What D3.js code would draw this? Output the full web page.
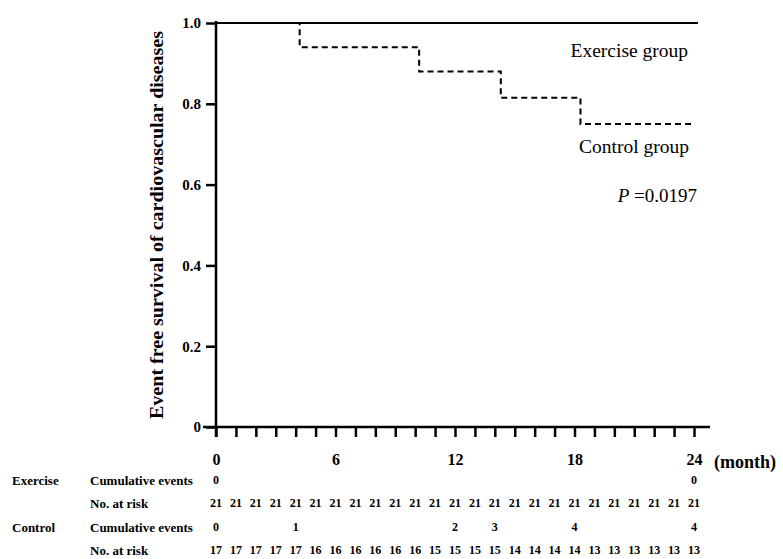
<!DOCTYPE html>
<html>
<head>
<meta charset="utf-8">
<script src="https://cdn.jsdelivr.net/npm/d3@7"></script>
<style>
  body { margin: 0; background: #fff; }
  svg text { font-family: "Liberation Serif", "Times New Roman", serif; fill: #000; }
</style>
</head>
<body>
<script>
// survival curves (month, proportion event free)
const exerciseTimes = [0, 24.2];
const exerciseSurv = [1, 1];
const controlTimes = [0, 4.2, 10.2, 14.3, 18.3, 23.9];
const controlSurv = [1, 0.94, 0.88, 0.815, 0.75, 0.75];

const xTickValues = [0, 1, 2, 3, 4, 5, 6, 7, 8, 9, 10, 11, 12, 13, 14, 15, 16, 17, 18, 19, 20, 21, 22, 23, 24];
const xTickLabels = [0, 6, 12, 18, 24];
const yTickValues = [0, 0.2, 0.4, 0.6, 0.8, 1.0];

// table under the plot
const riskMonths = [0, 1, 2, 3, 4, 5, 6, 7, 8, 9, 10, 11, 12, 13, 14, 15, 16, 17, 18, 19, 20, 21, 22, 23, 24];
const exerciseAtRisk = [21, 21, 21, 21, 21, 21, 21, 21, 21, 21, 21, 21, 21, 21, 21, 21, 21, 21, 21, 21, 21, 21, 21, 21, 21];
const controlAtRisk = [17, 17, 17, 17, 17, 16, 16, 16, 16, 16, 16, 15, 15, 15, 15, 14, 14, 14, 14, 13, 13, 13, 13, 13, 13];
const exerciseEventMonths = [0, 24];
const exerciseEvents = [0, 0];
const controlEventMonths = [0, 4, 12, 14, 18, 24];
const controlEvents = [0, 1, 2, 3, 4, 4];

function init() {
    var w = 783;
    var h = 559;

    var x = d3.scaleLinear().domain([0, 24]).range([216, 694]);
    var y = d3.scaleLinear().domain([0, 1]).range([427, 23]);

    var svg = d3.select("body")
        .append("svg")
        .attr("width", w)
        .attr("height", h);

    // y axis
    var yAxis = svg.append("g")
        .attr("transform", "translate(" + x(0) + ",0)")
        .call(d3.axisLeft(y)
            .tickValues(yTickValues)
            .tickSize(10)
            .tickPadding(5)
            .tickFormat(function(d) { return d === 0 ? "0" : d3.format(".1f")(d); }));
    yAxis.select(".domain").remove();
    yAxis.selectAll("line").attr("stroke", "#000").attr("stroke-width", 2.5);
    yAxis.selectAll("text")
        .style("font-size", "15px")
        .style("font-weight", "bold");

    // x axis
    var xAxis = svg.append("g")
        .attr("transform", "translate(0," + y(0) + ")")
        .call(d3.axisBottom(x)
            .tickValues(xTickValues)
            .tickSize(10)
            .tickPadding(17)
            .tickFormat(function(d) { return xTickLabels.indexOf(d) >= 0 ? d : ""; }));
    xAxis.select(".domain").remove();
    xAxis.selectAll("line").attr("stroke", "#000").attr("stroke-width", 2.5);
    xAxis.selectAll("text")
        .style("font-size", "16px")
        .style("font-weight", "bold");

    // axis lines
    svg.append("line")
        .attr("x1", x(0)).attr("x2", x(0))
        .attr("y1", y(0) + 10).attr("y2", y(1) - 2)
        .attr("stroke", "#000").attr("stroke-width", 2.5);
    svg.append("line")
        .attr("x1", x(0) - 13).attr("x2", x(24) + 16)
        .attr("y1", y(0)).attr("y2", y(0))
        .attr("stroke", "#000").attr("stroke-width", 2.5);

    svg.append("text")
        .attr("x", 714)
        .attr("y", y(0) + 41)
        .style("font-size", "18px")
        .style("font-weight", "bold")
        .text("(month)");

    svg.append("text")
        .attr("transform", "translate(163," + y(0.5) + ") rotate(-90)")
        .attr("text-anchor", "middle")
        .attr("textLength", 388)
        .attr("lengthAdjust", "spacingAndGlyphs")
        .style("font-size", "18px")
        .style("font-weight", "bold")
        .text("Event free survival of cardiovascular diseases");

    // curves
    var line = d3.line()
        .x(function(d) { return x(d[0]); })
        .y(function(d) { return y(d[1]); })
        .curve(d3.curveStepAfter);

    svg.append("path")
        .attr("d", line(d3.zip(exerciseTimes, exerciseSurv)))
        .attr("fill", "none")
        .attr("stroke", "#000")
        .attr("stroke-width", 2);

    svg.append("path")
        .attr("d", line(d3.zip(controlTimes, controlSurv)))
        .attr("fill", "none")
        .attr("stroke", "#000")
        .attr("stroke-width", 2)
        .attr("stroke-dasharray", "6,4");

    svg.append("text")
        .attr("x", 688).attr("y", 57)
        .attr("text-anchor", "end")
        .style("font-size", "19.5px")
        .text("Exercise group");

    svg.append("text")
        .attr("x", 689).attr("y", 153)
        .attr("text-anchor", "end")
        .style("font-size", "19.5px")
        .text("Control group");

    var p = svg.append("text")
        .attr("x", 697).attr("y", 202)
        .attr("text-anchor", "end")
        .style("font-size", "19px");
    p.append("tspan").style("font-style", "italic").text("P");
    p.append("tspan").text(" =0.0197");

    // table
    var rows = [480, 503, 527, 550];

    function label(tx, ty, s) {
        svg.append("text")
            .attr("x", tx).attr("y", ty)
            .attr("dy", "0.35em")
            .style("font-size", "13px")
            .style("font-weight", "bold")
            .text(s);
    }
    label(12, rows[0], "Exercise");
    label(12, rows[2], "Control");
    label(90, rows[0], "Cumulative events");
    label(90, rows[1], "No. at risk");
    label(90, rows[2], "Cumulative events");
    label(90, rows[3], "No. at risk");

    function numbers(months, vals, ty) {
        svg.append("g").selectAll("text")
            .data(d3.zip(months, vals))
            .enter()
            .append("text")
            .attr("x", function(d) { return x(d[0]); })
            .attr("y", ty)
            .attr("dy", "0.35em")
            .attr("text-anchor", "middle")
            .style("font-size", "12px")
            .style("font-weight", "bold")
            .text(function(d) { return d[1]; });
    }
    numbers(exerciseEventMonths, exerciseEvents, rows[0]);
    numbers(riskMonths, exerciseAtRisk, rows[1]);
    numbers(controlEventMonths, controlEvents, rows[2]);
    numbers(riskMonths, controlAtRisk, rows[3]);
}
window.onload = init;
</script>
</body>
</html>
